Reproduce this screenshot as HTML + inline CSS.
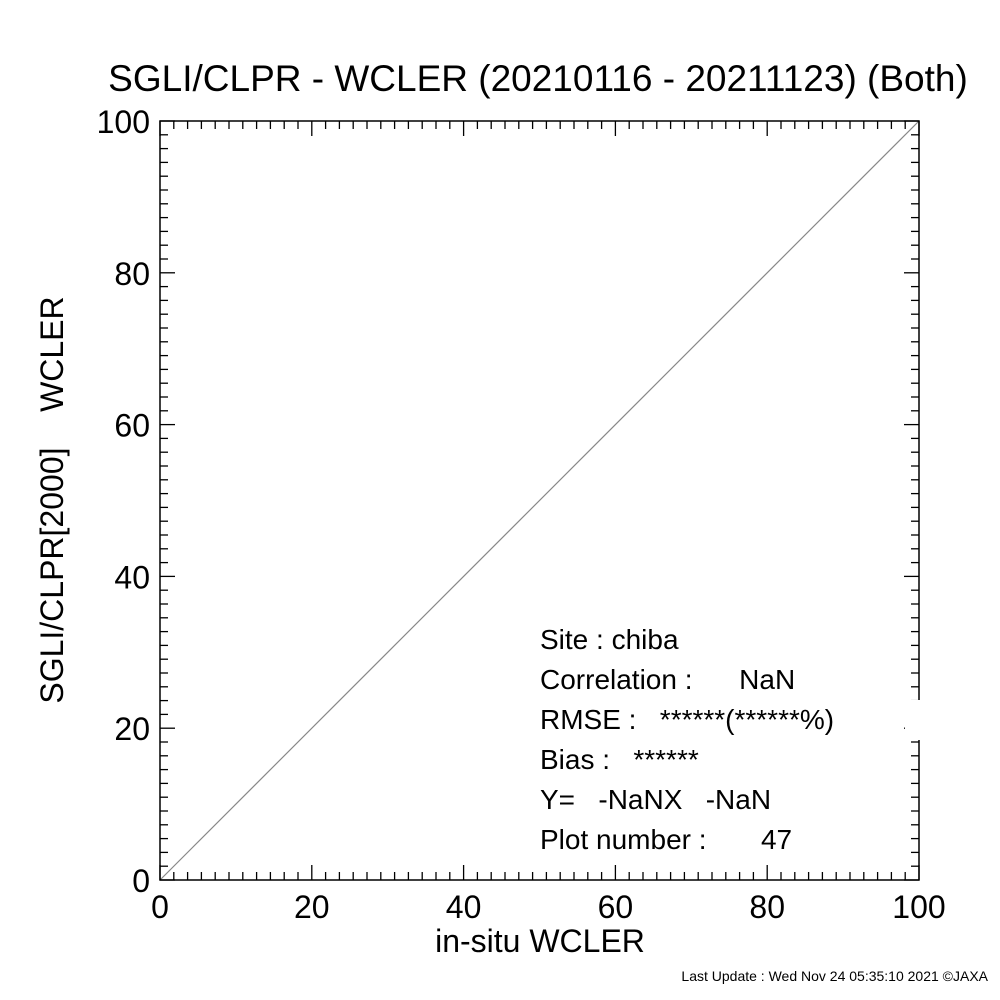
<!DOCTYPE html>
<html><head><meta charset="utf-8"><style>
html,body{margin:0;padding:0;background:#fff;}
svg{display:block;font-family:"Liberation Sans",Arial,sans-serif;}
.pre{white-space:pre;}
</style></head><body>
<svg id="chart" width="1000" height="1000" viewBox="0 0 1000 1000" xmlns="http://www.w3.org/2000/svg">
<rect width="1000" height="1000" fill="#fff"/>
<text x="538" y="91" font-size="37" text-anchor="middle">SGLI/CLPR - WCLER (20210116 - 20211123) (Both)</text>
<g id="axes"></g>
<text x="540" y="952" font-size="32" text-anchor="middle">in-situ WCLER</text>
<text class="pre" transform="translate(63,500) rotate(-90)" font-size="32" text-anchor="middle">SGLI/CLPR[2000]    WCLER</text>
<g font-size="28" class="pre">
<text class="pre" x="540" y="649">Site : chiba</text>
<text class="pre" x="540" y="689">Correlation :      NaN</text>
<rect x="905" y="700" width="20" height="40" fill="#fff"/>
<text class="pre" x="540" y="729">RMSE :   ******(******%)</text>
<text class="pre" x="540" y="769">Bias :   ******</text>
<text class="pre" x="540" y="809">Y=   -NaNX   -NaN</text>
<text class="pre" x="540" y="849">Plot number :       47</text>
</g>
<text x="988" y="981" font-size="14" text-anchor="end">Last Update : Wed Nov 24 05:35:10 2021  ©JAXA</text>
</svg>
<script>
const xTicks=[0,20,40,60,80,100];
const yTicks=[0,20,40,60,80,100];
const xTickLabels=["0","20","40","60","80","100"];
const yTickLabels=["0","20","40","60","80","100"];
const oneToOne=[[0,0],[100,100]];
const X0=160,X1=919,Y0=880,Y1=121;
const sx=v=>X0+(v-0)/100*(X1-X0);
const sy=v=>Y0-(v-0)/100*(Y0-Y1);
const NS="http://www.w3.org/2000/svg";
const g=document.getElementById('axes');
function mk(t,a){const e=document.createElementNS(NS,t);for(const k in a)e.setAttribute(k,a[k]);g.appendChild(e);return e;}
function ln(x1,y1,x2,y2,c,w){return mk('line',{x1,y1,x2,y2,stroke:c,'stroke-width':w});}
const d=ln(sx(oneToOne[0][0]),sy(oneToOne[0][1]),sx(oneToOne[1][0]),sy(oneToOne[1][1]),'#888',1.2);


const fr=mk('rect',{x:X0,y:Y1,width:X1-X0,height:Y0-Y1,fill:'none',stroke:'#000','stroke-width':1.5});


for(let i=0;i<xTicks.length-1;i++){
  for(let j=1;j<11;j++){
    const v=xTicks[i]+(xTicks[i+1]-xTicks[i])*j/11;
    const x=sx(v),y=sy(v);
    ln(x,Y0,x,Y0-8,'#000',1.3);ln(x,Y1,x,Y1+8,'#000',1.3);
    ln(X0,y,X0+8,y,'#000',1.3);ln(X1,y,X1-8,y,'#000',1.3);
  }
}
xTicks.forEach((v,i)=>{
  const x=sx(v);
  ln(x,Y0,x,Y0-15,'#000',1.3);ln(x,Y1,x,Y1+15,'#000',1.3);
  const t=mk('text',{x:x,y:918,'font-size':32,'text-anchor':'middle'});
  t.textContent=xTickLabels[i];
  
  
});
yTicks.forEach((v,i)=>{
  const y=sy(v);
  ln(X0,y,X0+15,y,'#000',1.3);ln(X1,y,X1-15,y,'#000',1.3);
  const t=mk('text',{x:150,y:y+12,'font-size':32,'text-anchor':'end'});
  t.textContent=yTickLabels[i];
  
  
});
</script>
</body></html>
